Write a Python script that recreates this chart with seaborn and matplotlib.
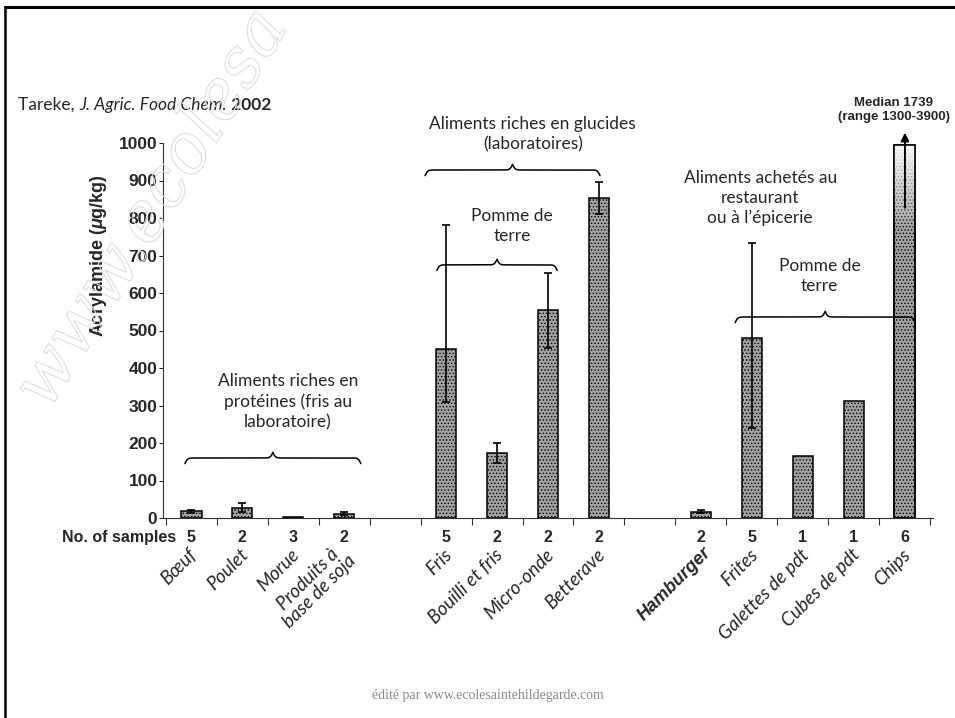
import numpy as np
import pandas as pd
import matplotlib
matplotlib.use('Agg')
import matplotlib.pyplot as plt
import matplotlib.transforms as mtransforms
from matplotlib import patheffects
from matplotlib.lines import Line2D
from matplotlib.patches import Rectangle
import seaborn as sns

# Données (Tareke et al., J. Agric. Food Chem. 2002)
groupe_proteines = ['Bœuf', 'Poulet', 'Morue', 'Produits à\nbase de soja']
groupe_glucides = ['Fris', 'Bouilli et fris', 'Micro-onde', 'Betterave']
groupe_commerce = ['Hamburger', 'Frites', 'Galettes de pdt', 'Cubes de pdt', 'Chips']

acrylamide_proteines = [18, 28, 3, 12]
acrylamide_glucides = [451, 174, 555, 854]
acrylamide_commerce = [17, 481, 165, 313, 995]

bas_proteines = [14, 16, np.nan, 9]
haut_proteines = [22, 40, np.nan, 15]
bas_glucides = [309, 147, 453, 811]
haut_glucides = [781, 201, 654, 896]
bas_commerce = [14, 240, np.nan, np.nan, np.nan]
haut_commerce = [21, 733, np.nan, np.nan, np.nan]

echantillons_proteines = [5, 2, 3, 2]
echantillons_glucides = [5, 2, 2, 2]
echantillons_commerce = [2, 5, 1, 1, 6]

# Construire le tableau (un emplacement vide entre les groupes)
groupes = [groupe_proteines, groupe_glucides, groupe_commerce]
positions = []
pos = 0
for g in groupes:
    for _ in g:
        positions.append(pos)
        pos += 1
    pos += 1

df = pd.DataFrame({
    'pos': positions,
    'aliment': groupe_proteines + groupe_glucides + groupe_commerce,
    'acrylamide': acrylamide_proteines + acrylamide_glucides + acrylamide_commerce,
    'bas': bas_proteines + bas_glucides + bas_commerce,
    'haut': haut_proteines + haut_glucides + haut_commerce,
    'n': echantillons_proteines + echantillons_glucides + echantillons_commerce,
})

sns.set_style('white')
plt.rcParams['font.family'] = ['Liberation Sans', 'DejaVu Sans']
plt.rcParams['mathtext.fontset'] = 'custom'
plt.rcParams['mathtext.it'] = 'Liberation Sans:italic:bold'
plt.rcParams['mathtext.rm'] = 'Liberation Sans:bold'
plt.rcParams['hatch.linewidth'] = 0.6

fig = plt.figure(figsize=(9.55, 7.18), dpi=100)
ax = fig.add_axes([163 / 955, 1 - 518 / 718, 770 / 955, 375 / 718])
ax.set_facecolor('none')

sns.barplot(data=df, x='pos', y='acrylamide', native_scale=True, width=0.41,
            color='#a2a2a2', edgecolor='black', linewidth=1.1, hatch='.....',
            saturation=1, errorbar=None, ax=ax)

# Barres d'erreur
err = df.dropna(subset=['bas'])
ax.errorbar(err['pos'], err['acrylamide'],
            yerr=[err['acrylamide'] - err['bas'], err['haut'] - err['acrylamide']],
            fmt='none', ecolor='black', elinewidth=1.2, capsize=3, capthick=1.2, zorder=5)

# Chips : le haut de la barre s'éclaircit
i_chips = df.index[df['aliment'] == 'Chips'][0]
barre = ax.patches[i_chips]
bx, by = barre.get_xy()
bw, bh = barre.get_width(), barre.get_height()
degrade = np.ones((200, 1, 4))
alpha = np.clip((np.linspace(0, 1, 200) - 0.78) / 0.22, 0, 1)
degrade[:, 0, 3] = alpha ** 0.8 * 0.95
img = ax.imshow(degrade, extent=[bx, bx + bw, by, by + bh], aspect='auto',
                origin='lower', zorder=2, interpolation='bilinear')
img.set_clip_path(barre)
ax.add_patch(Rectangle((bx, by), bw, bh, fill=False, edgecolor='black', lw=1.1, zorder=3))

ax.set_xlim(-0.55, 14.55)
ax.set_ylim(0, 1000)
ax.set_xlabel('')
ax.set_ylabel('')
sns.despine(ax=ax)
for s in ('left', 'bottom'):
    ax.spines[s].set_color('#333333')
    ax.spines[s].set_linewidth(0.8)

ax.set_yticks(range(0, 1001, 100))
ax.tick_params(axis='y', left=True, length=3, width=0.8, pad=1, labelsize=12.5)
for t in ax.get_yticklabels():
    t.set_fontweight('bold')

ax.set_xticks([])
ax.set_xticks(np.arange(-0.5, 15, 1), minor=True)
ax.tick_params(axis='x', which='minor', bottom=True, length=5, width=0.8, color='#333333')

trans = mtransforms.blended_transform_factory(ax.transData, ax.transAxes)

# Nombre d'échantillons et libellés
ax.text(-0.3, -0.052, 'No. of samples', transform=trans, ha='right', va='center',
        fontsize=11.5, fontweight='bold')
for _, r in df.iterrows():
    ax.text(r['pos'], -0.052, str(r['n']), transform=trans, ha='center', va='center',
            fontsize=11.5, fontweight='bold')
    if r['aliment'] == 'Hamburger':
        ax.text(r['pos'] + 0.15, -0.085, r['aliment'], transform=trans, rotation=45,
                ha='right', va='center', rotation_mode='anchor', fontsize=13,
                fontweight='bold', fontstyle='italic')
    else:
        ax.text(r['pos'] + 0.06, -0.091, r['aliment'], transform=trans, rotation=45,
                ha='right', va='center', rotation_mode='anchor', fontsize=13.5,
                family='Lato', fontstyle='italic', multialignment='center',
                linespacing=1.0)

ax.text(-0.084, 0.70, r'Acrylamide ($\mu$g/kg)', transform=ax.transAxes, rotation=90,
        ha='center', va='center', fontsize=13, fontweight='bold')


def accolade(ax, x0, x1, y, amp=15, k=40):
    x = np.linspace(x0, x1, 401)
    demi = x[:201]
    h = 1 / (1 + np.exp(-k * (demi - demi[0]))) + 1 / (1 + np.exp(-k * (demi - demi[-1])))
    forme = np.concatenate([h, h[-2::-1]])
    ax.plot(x, y + amp * 2 * (forme - 1), color='black', lw=1.1, clip_on=False)


accolade(ax, -0.12, 3.33, 160)
accolade(ax, 4.59, 8.02, 928)
accolade(ax, 4.82, 7.18, 675)
accolade(ax, 10.67, 14.2, 536)

style_note = dict(ha='center', va='center', fontsize=12.5, family='Lato', linespacing=1.3)
ax.text(1.9, 310, 'Aliments riches en\nprotéines (fris au\nlaboratoire)', **style_note)
ax.text(6.7, 1024, 'Aliments riches en glucides\n(laboratoires)', **style_note)
ax.text(6.3, 779, 'Pomme de\nterre', **style_note)
ax.text(11.16, 853, 'Aliments achetés au\nrestaurant\nou à l’épicerie', **style_note)
ax.text(12.33, 645, 'Pomme de\nterre', **style_note)

# Chips : valeur hors échelle
ax.annotate('', xy=(df.loc[i_chips, 'pos'], 1035), xytext=(df.loc[i_chips, 'pos'], 820),
            arrowprops=dict(arrowstyle='-|>', color='black', lw=1.4, mutation_scale=12),
            annotation_clip=False, zorder=6)
ax.text(df.loc[i_chips, 'pos'] - 0.22, 1088, 'Median 1739\n(range 1300-3900)', ha='center',
        va='center', fontsize=9.5, fontweight='bold', linespacing=1.15)

# Référence
t1 = fig.text(18 / 955, 1 - 105 / 718, 'Tareke, ', family='Lato', fontsize=12.5, va='center')
t2 = ax.annotate('J. Agric. Food Chem.', xy=(1, 0), xycoords=t1, va='bottom', ha='left',
                 family='Lato', fontsize=12.5, fontstyle='italic')
ax.annotate(' 2002', xy=(1, 0), xycoords=t2, va='bottom', ha='left',
            family='Lato', fontsize=12.5, fontweight='bold')

# Filigrane et cadre
fig.text(4 / 955, 1 - 405 / 718, 'www.ecolesa', rotation=58, fontsize=50,
         family='DejaVu Serif', fontstyle='italic', color=(1, 1, 1, 0),
         path_effects=[patheffects.withStroke(linewidth=0.8, foreground='#dddddd')], zorder=0)
fig.text(0.511, 1 - 695 / 718, 'édité par www.ecolesaintehildegarde.com', ha='center', va='center',
         family='Liberation Serif', fontsize=10, color='#8a8a8a')
fig.add_artist(Line2D([5 / 955, 5 / 955], [0, 1 - 7 / 718], transform=fig.transFigure,
                      color='black', lw=1.8))
fig.add_artist(Line2D([5 / 955, 1], [1 - 7 / 718, 1 - 7 / 718], transform=fig.transFigure,
                      color='black', lw=2.2))

fig.savefig('out.png', dpi=100)
